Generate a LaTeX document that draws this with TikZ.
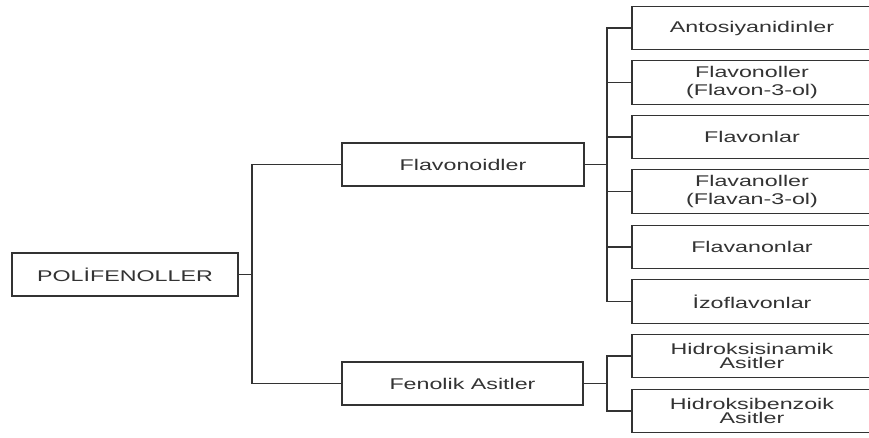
\documentclass[tikz,border=0pt]{standalone}
\usepackage{fontspec}
\newfontfamily\boxfont{Liberation Sans}[FakeStretch=1.5]
\definecolor{ink}{HTML}{333333}
\begin{document}
\begin{tikzpicture}[x=1pt,y=-1pt]
\tikzset{
  box/.style={draw=ink, line width=1.4pt, fill=white, text=ink, inner sep=0pt,
    align=center, font=\boxfont\fontsize{15.5}{17.5}\selectfont},
  tight/.style={font=\boxfont\fontsize{15.5}{14.5}\selectfont},
  leaf/.style={box, minimum width=240, minimum height=43.5},
  conn/.style={draw=ink, line width=1.4pt}
}
\clip (0,0) rectangle (869,437);
\fill[white] (0,0) rectangle (869,437);

\node[box, minimum width=226, minimum height=43] (P) at (125,274.5) {POLİFENOLLER};
\node[box, minimum width=242, minimum height=43] (F) at (463,164.5) {Flavonoidler};
\node[box, minimum width=241, minimum height=43] (FA) at (462.5,383.5) {Fenolik Asitler};

\node[leaf] (c1) at (752,28) {Antosiyanidinler};
\node[leaf] (c2) at (752,82.5) {Flavonoller\\(Flavon-3-ol)};
\node[leaf] (c3) at (752,137) {Flavonlar};
\node[leaf] (c4) at (752,191.5) {Flavanoller\\(Flavan-3-ol)};
\node[leaf] (c5) at (752,247) {Flavanonlar};
\node[leaf] (c6) at (752,301.5) {İzoflavonlar};
\node[leaf, tight] (d1) at (752,356) {Hidroksisinamik\\Asitler};
\node[leaf, tight] (d2) at (752,411) {Hidroksibenzoik\\Asitler};

\coordinate (j1) at (252,274.5);
\coordinate (j2) at (607,164.5);
\coordinate (j3) at (607,383.5);

\draw[conn] (P.east) -- (j1);
\draw[conn] (F.west) -| (j1) |- (FA.west);
\draw[conn] (F.east) -- (j2);
\draw[conn] (c1.west) -| (j2) |- (c6.west);
\foreach \n in {c2,c3,c4,c5} \draw[conn] (j2 |- \n.west) -- (\n.west);
\draw[conn] (FA.east) -- (j3);
\draw[conn] (d1.west) -| (j3) |- (d2.west);
\end{tikzpicture}
\end{document}
